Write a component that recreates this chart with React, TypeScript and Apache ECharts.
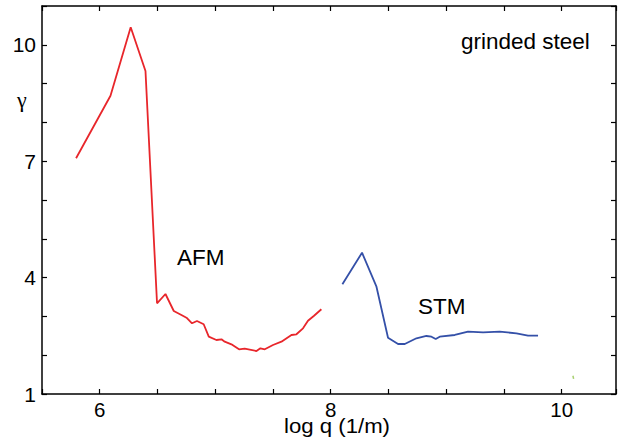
import React, { useEffect, useRef } from "react";
import * as echarts from "echarts";

const afmX = [5.795, 6.093, 6.268, 6.396, 6.496, 6.569, 6.641, 6.707, 6.751, 6.799, 6.842, 6.9, 6.944, 7.01, 7.054, 7.082, 7.14, 7.206, 7.255, 7.357, 7.391, 7.429, 7.5, 7.573, 7.66, 7.703, 7.76, 7.803, 7.853, 7.919];
const afmY = [7.075, 8.688, 10.451, 9.325, 3.338, 3.577, 3.139, 3.036, 2.966, 2.822, 2.881, 2.797, 2.477, 2.392, 2.41, 2.348, 2.281, 2.152, 2.168, 2.108, 2.178, 2.152, 2.263, 2.348, 2.521, 2.539, 2.693, 2.889, 3.01, 3.183];
const stmX = [8.101, 8.271, 8.396, 8.496, 8.583, 8.641, 8.742, 8.828, 8.872, 8.909, 8.944, 9.074, 9.189, 9.319, 9.463, 9.608, 9.708, 9.795];
const stmY = [3.827, 4.642, 3.765, 2.451, 2.289, 2.289, 2.436, 2.495, 2.477, 2.418, 2.477, 2.521, 2.606, 2.59, 2.606, 2.564, 2.503, 2.503];
const thirdX = [10.097, 10.103];
const thirdY = [1.47, 1.39];
const xLabels = [6, 8, 10];
const yLabels = [1, 4, 7, 10];

const FONT = "Liberation Sans";

export default function App() {
  const ref = useRef<HTMLDivElement>(null);
  useEffect(() => {
    if (!ref.current) return;
    const chart = echarts.init(ref.current, null, { renderer: "svg" });
    const axisLine = { show: true, lineStyle: { color: "#000", width: 1.5 } };
    const tick = { show: true, inside: true, length: 5, lineStyle: { color: "#000", width: 1.2 } };
    const xBase = { type: "value", min: 5.5, max: 10.47, interval: 0.5, splitLine: { show: false }, axisLine, axisTick: tick };
    const yBase = { type: "value", min: 1, max: 11, interval: 1, splitLine: { show: false }, axisLine, axisTick: tick };
    const ann = (text: string, x: number, y: number, size = 22.5, scaleX = 1) => ({
      type: "text", x, y, scaleX,
      style: { text, fontFamily: FONT, fontSize: size, fill: "#000", align: "left", verticalAlign: "middle", lineHeight: 13 },
    });
    chart.setOption({
      animation: false,
      grid: { left: 42, top: 6, right: 10, bottom: 52, containLabel: false },
      xAxis: [
        {
          ...xBase,
          position: "bottom",
          axisLabel: {
            fontFamily: FONT, fontSize: 20.5, color: "#000", margin: 8, lineHeight: 14,
            formatter: (v: number) => (xLabels.some((l) => Math.abs(l - v) < 1e-6) ? String(v) : ""),
          },
        },
        { ...xBase, position: "top", axisLabel: { show: false } },
      ],
      yAxis: [
        {
          ...yBase,
          position: "left",
          axisLabel: {
            fontFamily: FONT, fontSize: 21, color: "#000", margin: 6,
            formatter: (v: number) => (yLabels.some((l) => Math.abs(l - v) < 1e-6) ? String(v) : ""),
          },
        },
        { ...yBase, position: "right", axisLabel: { show: false } },
      ],
      series: [
        { type: "line", name: "AFM", data: afmX.map((x, i) => [x, afmY[i]]), showSymbol: false, lineStyle: { color: "#e8262b", width: 1.8 }, itemStyle: { color: "#e8262b" } },
        { type: "line", name: "STM", data: stmX.map((x, i) => [x, stmY[i]]), showSymbol: false, lineStyle: { color: "#3450a8", width: 1.8 }, itemStyle: { color: "#3450a8" } },
        { type: "line", name: "other", data: thirdX.map((x, i) => [x, thirdY[i]]), showSymbol: false, lineStyle: { color: "#a8d070", width: 1.5 }, itemStyle: { color: "#a8d070" } },
      ],
      graphic: [
        { type: "text", left: 17, top: 88, style: { text: "γ", fontFamily: "Liberation Serif", fontSize: 22, fill: "#000" } },
        ann("AFM", 177, 257),
        ann("STM", 418, 306),
        ann("grinded steel", 461, 41),
        ann("log q (1/m)", 284, 426, 20, 1.11),
      ],
    });
    return () => chart.dispose();
  }, []);
  return <div ref={ref} style={{ width: 626, height: 446, position: "fixed", left: 0, top: 0, background: "#fff" }} />;
}
